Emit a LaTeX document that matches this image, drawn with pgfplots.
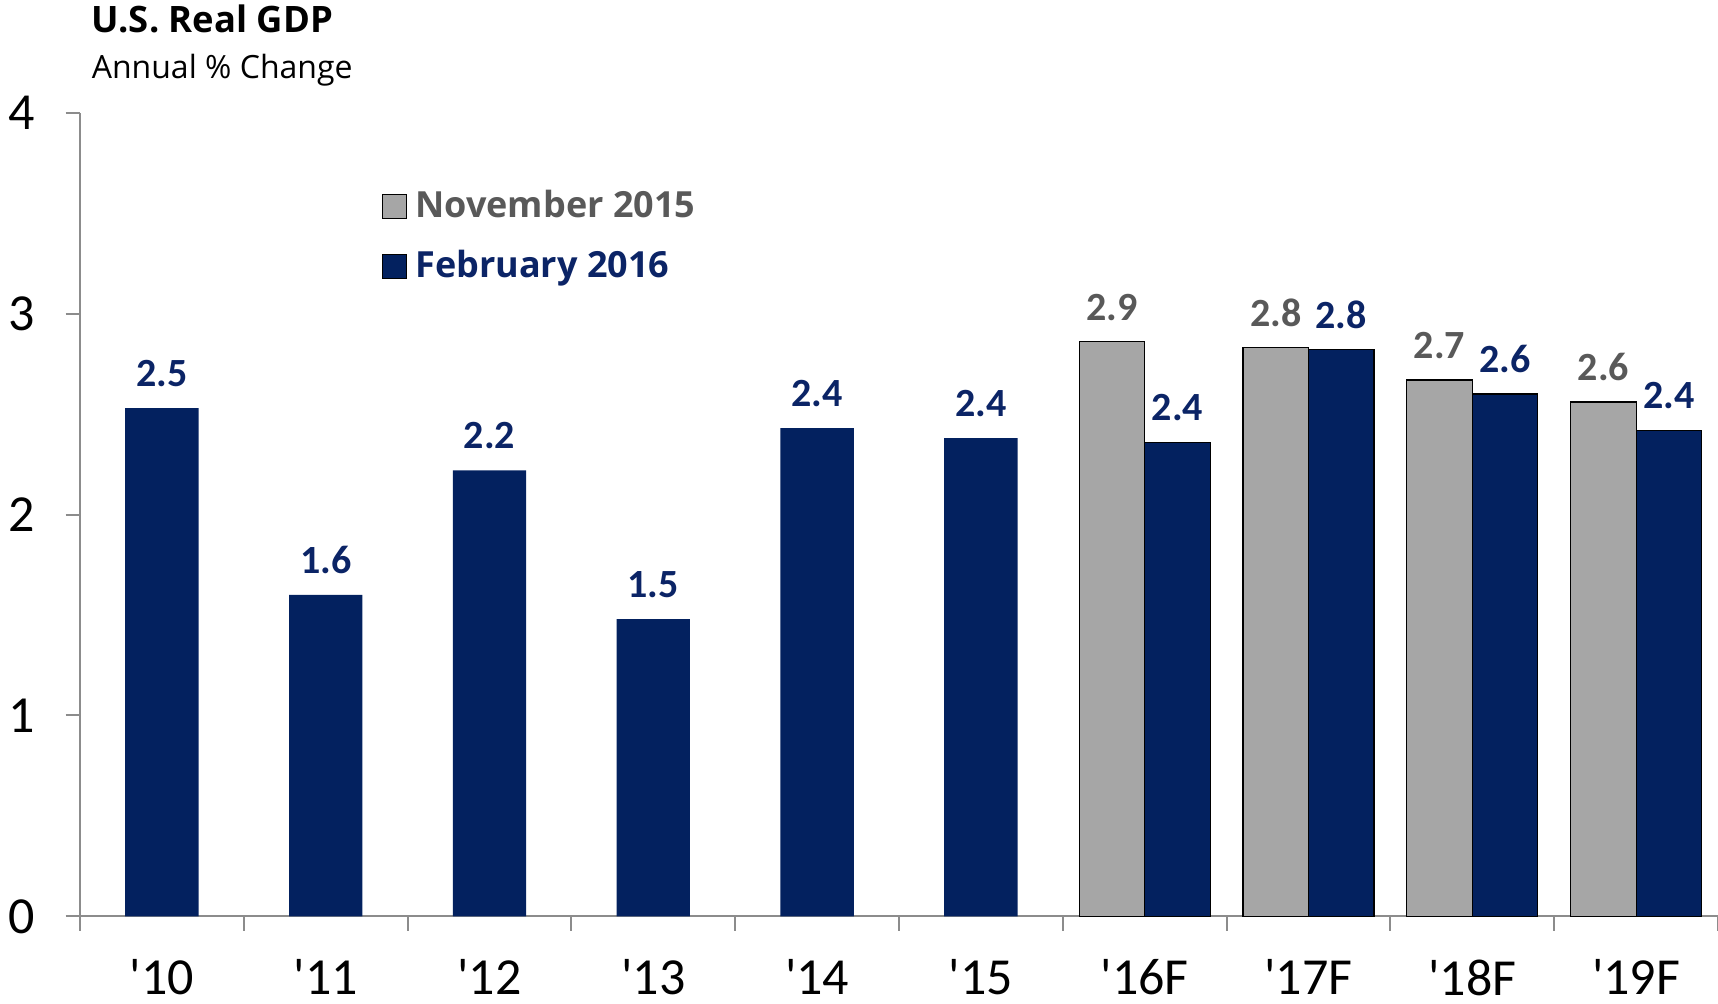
\documentclass[border=0pt]{standalone}
\usepackage{fontspec}
\setmainfont{Open Sans}
\newfontfamily\carlito{Carlito}
\usepackage{pgfplots}
\pgfplotsset{compat=1.18}
\definecolor{navy}{HTML}{03215F}
\definecolor{navytxt}{HTML}{0B2466}
\definecolor{barGrey}{HTML}{A6A6A6}
\definecolor{txtGrey}{HTML}{595959}
\definecolor{axGrey}{HTML}{8C8C8C}
\begin{document}
\begin{tikzpicture}
\begin{axis}[
  scale only axis, width=409.5pt, height=200.9pt,
  xmin=-0.5, xmax=9.5, ymin=0, ymax=4,
  clip=false,
  axis x line*=bottom, axis y line*=left,
  axis line style={draw=axGrey, line width=0.5pt},
  tick align=outside,
  xtick={0,...,9},
  xticklabels={\textquotesingle10,\textquotesingle11,\textquotesingle12,\textquotesingle13,\textquotesingle14,\textquotesingle15,\textquotesingle16F,\textquotesingle17F,\textquotesingle18F,\textquotesingle19F},
  minor xtick={-0.5,0.5,...,9.5},
  major x tick style={draw=none},
  minor x tick style={draw=axGrey, line width=0.5pt},
  minor tick length=3.6pt,
  major tick length=3.6pt,
  ytick={0,1,2,3,4},
  y tick style={draw=axGrey, line width=0.5pt},
  /pgf/number format/assume math mode=true,
  ticklabel style={font=\carlito\fontsize{13}{15}\selectfont, text=black},
  x tick label style={yshift=-7.0pt, inner sep=0pt},
  y tick label style={xshift=-4.2pt},
  legend style={at={(rel axis cs:0.184,0.915)}, anchor=north west, draw=none, fill=none,
    inner sep=0pt, row sep=2.7pt, font=\bfseries\fontsize{9.0}{11}\selectfont},
  legend cell align=left,
  nodes near coords={\pgfmathprintnumber[fixed,fixed zerofill,precision=1]{\pgfplotspointmeta}},
]
\addplot[ybar, bar width=0.4, bar shift=-0.2, fill=barGrey, draw=black, line width=0.3pt,
  nodes near coords style={font=\carlito\bfseries\fontsize{10}{12}\selectfont, text=txtGrey, anchor=south, inner sep=0pt, yshift=5.2pt, xshift=-8.19pt},
  legend image code/.code={\draw[fill=barGrey, draw=black, line width=0.3pt] (0pt,-3pt) rectangle (6pt,3pt);}]
  coordinates {(6,2.86) (7,2.83) (8,2.67) (9,2.56)};
\addlegendentry{\textcolor{txtGrey}{November 2015}}
\addplot[ybar, bar width=0.4, bar shift=0.2, fill=navy, draw=black, line width=0.3pt,
  nodes near coords style={font=\carlito\bfseries\fontsize{10}{12}\selectfont, text=navytxt, anchor=south, inner sep=0pt, yshift=5.2pt, xshift=8.19pt},
  legend image code/.code={\draw[fill=navy, draw=black, line width=0.3pt] (0pt,-3pt) rectangle (6pt,3pt);}]
  coordinates {(6,2.36) (7,2.82) (8,2.60) (9,2.42)};
\addlegendentry{\textcolor{navytxt}{February 2016}}
\addplot[ybar, bar width=0.448, bar shift=0, fill=navy, draw=none, forget plot,
  nodes near coords style={font=\carlito\bfseries\fontsize{10}{12}\selectfont, text=navytxt, anchor=south, inner sep=0pt, yshift=5.2pt}]
  coordinates {(0,2.53) (1,1.60) (2,2.22) (3,1.48) (4,2.43) (5,2.38)};
\node[anchor=base west, inner sep=0pt, font=\bfseries\fontsize{9.1}{11}\selectfont] at ([xshift=2.75pt,yshift=20pt]rel axis cs:0,1) {U.S. Real GDP};
\node[anchor=base west, inner sep=0pt, font=\fontsize{8.0}{10}\selectfont] at ([xshift=2.75pt,yshift=8.5pt]rel axis cs:0,1) {Annual \% Change};
\coordinate (SW) at (rel axis cs:0,0);
\coordinate (NE) at (rel axis cs:1,1);
\end{axis}
\pgfresetboundingbox
\path[use as bounding box] ([xshift=-20pt,yshift=-21.9pt]SW) rectangle ([yshift=28.2pt]NE);
\end{tikzpicture}
\end{document}
